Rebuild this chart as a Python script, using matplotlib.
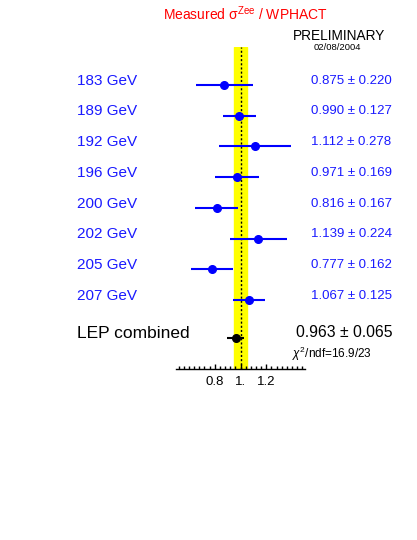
import numpy as np
import matplotlib
matplotlib.use("Agg")
import matplotlib.pyplot as plt
from matplotlib import transforms
from matplotlib.ticker import MultipleLocator, FixedLocator

plt.rcParams['font.family'] = ['Liberation Sans', 'DejaVu Sans']
plt.rcParams['mathtext.fontset'] = 'custom'
plt.rcParams['mathtext.rm'] = 'Liberation Sans'
plt.rcParams['mathtext.it'] = 'Liberation Sans:italic'

# data
energies = ["183 GeV", "189 GeV", "192 GeV", "196 GeV", "200 GeV", "202 GeV", "205 GeV", "207 GeV"]
ratio = [0.875, 0.990, 1.112, 0.971, 0.816, 1.139, 0.777, 1.067]
err = [0.220, 0.127, 0.278, 0.169, 0.167, 0.224, 0.162, 0.125]
comb_val = 0.963
comb_err = 0.065
theory_unc = 0.05
chi2_text = r"$\chi^2$/ndf=16.9/23"

blue = "#1a1aff"

fig = plt.figure(figsize=(4.17, 5.40), dpi=100)
ax = fig.add_axes([176/417, 1 - 369/540, 129/417, (369 - 47)/540])

rows = np.arange(len(energies))
comb_row = 8.25

ax.axvspan(1 - theory_unc, 1 + theory_unc, color="yellow", zorder=0)
ax.axvline(1.0, color="black", ls=(0, (1.5, 1.5)), lw=1, zorder=1)

ax.errorbar(ratio, rows, xerr=err, fmt="o", color="blue", ms=5.5,
            lw=1.5, capsize=0, zorder=3, clip_on=False)
ax.errorbar([comb_val], [comb_row], xerr=[comb_err], fmt="o", color="black",
            ms=5.5, lw=1.5, capsize=0, zorder=3)

ax.set_xlim(0.5, 1.5)
ax.set_ylim(9.25, -1.24)

for s in ["left", "right", "top"]:
    ax.spines[s].set_visible(False)
ax.spines["bottom"].set_linewidth(1)
ax.set_yticks([])
ax.xaxis.set_major_locator(FixedLocator([0.8, 1.0, 1.2]))
ax.xaxis.set_minor_locator(MultipleLocator(0.04))
ax.set_xticklabels(["0.8", "1.", "1.2"])
ax.tick_params(axis="x", which="major", direction="in", length=3.5, width=1,
               labelsize=9.5, pad=5)
ax.tick_params(axis="x", which="minor", direction="in", length=2, width=1)

tr = transforms.blended_transform_factory(fig.transFigure, ax.transData)
shift = 0.14
for i, lab in enumerate(energies):
    ax.text(77/417, rows[i] - shift, lab, transform=tr, color=blue,
            fontsize=11, va="center", ha="left")
    ax.text(311/417, rows[i] - shift, f"{ratio[i]:.3f} ± {err[i]:.3f}",
            transform=tr, color=blue, fontsize=9.5, va="center", ha="left")

ax.text(77/417, comb_row - 0.17, "LEP combined", transform=tr, color="black",
        fontsize=12.5, va="center", ha="left")
ax.text(296/417, comb_row - 0.2, f"{comb_val:.3f} ± {comb_err:.3f}",
        transform=tr, color="black", fontsize=11.3, va="center", ha="left")
ax.text(292/417, comb_row + 0.52, chi2_text, transform=tr, color="black",
        fontsize=8.5, va="center", ha="left")

fig.text(245/417, 1 - 14/540, r"Measured σ$^{\mathregular{Zee}}$ / WPHACT",
         color="red", fontsize=10, ha="center", va="center")
fig.text(339/417, 1 - 36/540, "PRELIMINARY", color="black", fontsize=9.8,
         ha="center", va="center")
fig.text(337/417, 1 - 47/540, "02/08/2004", color="black", fontsize=6.8,
         ha="center", va="center")

fig.savefig("out.png", dpi=100)
